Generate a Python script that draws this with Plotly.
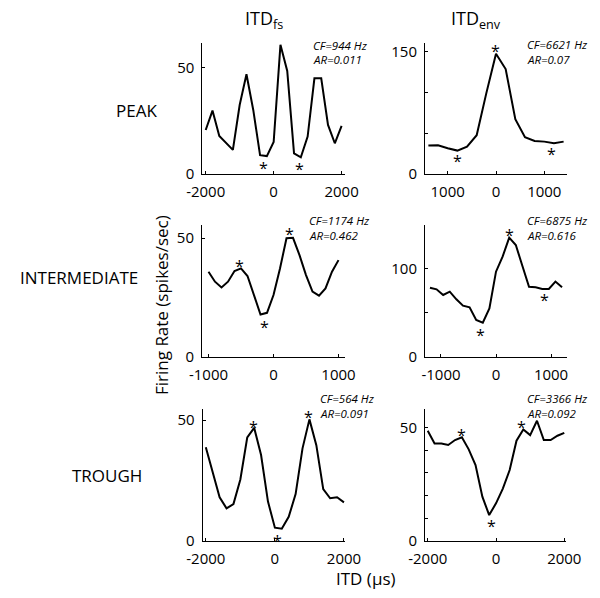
import plotly.graph_objects as go

W, H = 600, 598
OX, OY = 8, 8   # page body margin shift

# ---------------- data ----------------
itd_fs_wide = [-2000, -1800, -1600, -1400, -1200, -1000, -800, -600, -400, -200, 0,
               200, 400, 600, 800, 1000, 1200, 1400, 1600, 1800, 2000]
itd_fs_mid = [-1000, -900, -800, -700, -600, -500, -400, -300, -200, -100, 0,
              100, 200, 300, 400, 500, 600, 700, 800, 900, 1000]
itd_env_peak = [-1400, -1200, -1000, -800, -600, -400, -200, 0,
                200, 400, 600, 800, 1000, 1200, 1400]
itd_env_mid = [-1200, -1080, -960, -840, -720, -600, -480, -360, -240, -120, 0,
               120, 240, 360, 480, 600, 720, 840, 960, 1080, 1200]

rate_peak_fs = [20.6, 29.7, 17.8, 14.4, 11.3, 32.3, 46.7, 30.0, 8.8, 8.4, 15.0,
                60.5, 48.3, 9.7, 7.8, 17.5, 44.8, 44.8, 23.0, 14.4, 22.5]
rate_peak_env = [34.8, 35.2, 31.6, 28.7, 33.6, 47.5, 99.2, 147.5,
                 128.7, 67.3, 45.0, 40.6, 39.7, 37.7, 39.7]
rate_mid_fs = [35.8, 31.6, 29.2, 31.6, 36.1, 37.2, 34.0, 26.0, 17.8, 18.5, 26.0,
               37.2, 49.9, 50.1, 42.8, 34.4, 27.4, 25.7, 28.8, 35.8, 40.7]
rate_mid_env = [78.1, 76.2, 69.8, 73.6, 64.9, 57.7, 55.8, 41.5, 38.5, 54.7, 96.2,
                113.2, 134.7, 126.4, 102.6, 79.2, 78.6, 76.7, 76.7, 85.0, 78.6]
rate_trough_fs = [38.7, 28.6, 18.0, 13.4, 15.2, 25.4, 42.8, 46.8, 35.5, 16.2, 5.4,
                  5.0, 9.9, 19.3, 38.3, 50.3, 39.6, 21.4, 17.6, 18.0, 15.9]
rate_trough_env = [48.5, 42.9, 42.9, 42.2, 44.4, 45.6, 40.3, 33.4, 19.4, 11.3, 16.5,
                   23.0, 31.2, 44.1, 49.1, 46.6, 52.9, 44.4, 44.4, 46.3, 47.6]

# asterisk markers (x, y) per panel
star_x = [[194, -310, 767], [0, -800, 1153], [-525, -143, 250],
          [242, -279, 880], [-606, 67, 961], [-1004, -146, 752]]
star_y = [[64.0, 4.7, 4.4], [156.0, 20.5, 29.5], [40.0, 14.3, 53.6],
          [142.7, 29.4, 68.7], [49.0, 1.7, 53.0], [48.5, 8.1, 51.8]]

cf_labels = ["CF=944 Hz", "CF=6621 Hz", "CF=1174 Hz", "CF=6875 Hz", "CF=564 Hz", "CF=3366 Hz"]
ar_labels = ["AR=0.011", "AR=0.07", "AR=0.462", "AR=0.616", "AR=0.091", "AR=0.092"]

row_labels = ["PEAK", "INTERMEDIATE", "TROUGH"]
col_titles = ["ITD<sub>fs</sub>", "ITD<sub>env</sub>"]

xticks = [[-2000, 0, 2000], [-1000, 0, 1000], [-1000, 0, 1000],
          [-1000, 0, 1000], [-2000, 0, 2000], [-2000, 0, 2000]]
xticktext = [["-2000", "0", "2000"], ["1000", "0", "1000"], ["-1000", "0", "1000"],
             ["-1000", "0", "1000"], ["-2000", "0", "2000"], ["-2000", "0", "2000"]]
yticks = [[0, 50], [0, 50, 100, 150], [0, 50], [0, 50, 100], [0, 50], [0, 10, 20, 30, 40, 50]]
yticktext = [["0", "50"], ["0", "", "", "150"], ["0", "50"], ["0", "", "100"],
             ["0", "50"], ["0", "", "", "", "", "50"]]

series_x = [itd_fs_wide, itd_env_peak, itd_fs_mid, itd_env_mid, itd_fs_wide, itd_fs_wide]
series_y = [rate_peak_fs, rate_peak_env, rate_mid_fs, rate_mid_env, rate_trough_fs, rate_trough_env]

# ---------------- layout geometry (reference pixels) ----------------
px_x = [(202.3, 345), (425, 567), (202, 345), (425, 567), (202.7, 345), (425, 566)]
px_y = [(42.7, 174), (42.7, 174), (225, 356.7), (225, 356.7), (409, 540.7), (409, 540.7)]
xranges = [[-2100, 2100], [-1470, 1470], [-1100, 1100], [-1290, 1290], [-2090, 2030], [-2080, 2050]]
yranges = [[0, 61.5], [0, 161], [0, 55.5], [0, 149], [0, 54.6], [0, 58.1]]
cf_pos = [(311, 45.8), (525, 45), (307, 220.5), (525, 220.5), (318, 398.3), (525, 398)]
ar_pos = [(311, 59), (525, 60), (307, 235), (525, 235), (318, 413.3), (525, 413)]

def fx(px):
    return (px - OX) / W

def fy(py):
    return 1 - (py - OY) / H

FONT = "Open Sans"
fig = go.Figure()
layout = dict(width=W, height=H, margin=dict(l=0, r=0, t=0, b=0, pad=0),
              autosize=False,
              paper_bgcolor="white", plot_bgcolor="white", showlegend=False,
              font=dict(family=FONT, size=15, color="black"))
annotations = []

def paper_text(text, px, py, size, xanchor="center", yanchor="middle", **kw):
    return dict(x=fx(px), y=fy(py), xref="paper", yref="paper", text=text,
                xanchor=xanchor, yanchor=yanchor, showarrow=False,
                font=dict(size=size, family=FONT, color="black"), **kw)

for i in range(6):
    k = "" if i == 0 else str(i + 1)
    xa, ya = "x" + k, "y" + k
    fig.add_trace(go.Scatter(x=series_x[i], y=series_y[i], mode="lines",
                             line=dict(color="black", width=2),
                             xaxis=xa, yaxis=ya, hoverinfo="skip"))
    x0, x1 = px_x[i]
    y0, y1 = px_y[i]
    layout["xaxis" + k] = dict(domain=[fx(x0), fx(x1)], range=xranges[i],
                               anchor=ya, showgrid=False, zeroline=False,
                               showline=True, linecolor="black", linewidth=1,
                               ticks="inside", ticklen=3, tickcolor="black",
                               tickvals=xticks[i], ticktext=xticktext[i],
                               tickfont=dict(size=15), automargin=False,
                               ticklabelstandoff=4)
    layout["yaxis" + k] = dict(domain=[fy(y1), fy(y0)], range=yranges[i],
                               anchor=xa, showgrid=False, zeroline=False,
                               showline=True, linecolor="black", linewidth=1,
                               ticks="inside", ticklen=3, tickcolor="black",
                               tickvals=yticks[i], ticktext=yticktext[i],
                               tickfont=dict(size=15), automargin=False,
                               ticklabelstandoff=4)
    for sx, sy in zip(star_x[i], star_y[i]):
        annotations.append(dict(x=sx, y=sy, xref=xa, yref=ya, text="*",
                                xanchor="center", yanchor="middle",
                                showarrow=False, font=dict(size=16, family=FONT),
                                yshift=-4))
    annotations.append(paper_text("<i>" + cf_labels[i] + "</i>", cf_pos[i][0], cf_pos[i][1],
                                  11.5, xanchor="left"))
    annotations.append(paper_text("<i>" + ar_labels[i] + "</i>", ar_pos[i][0], ar_pos[i][1],
                                  11.5, xanchor="left"))

# column titles
for t, cx in zip(col_titles, [264, 476]):
    annotations.append(paper_text(t, cx, 20, 18))
# row labels
for t, (cx, cy) in zip(row_labels, [(136, 110), (79, 277), (107, 475)]):
    annotations.append(paper_text(t, cx, cy, 17))
# axis titles
annotations.append(paper_text("Firing Rate (spikes/sec)", 161, 305, 17, textangle=-90))
annotations.append(paper_text("ITD (µs)", 366, 578, 17))

layout["annotations"] = annotations
fig.update_layout(**layout)
fig.write_html("out.html")
